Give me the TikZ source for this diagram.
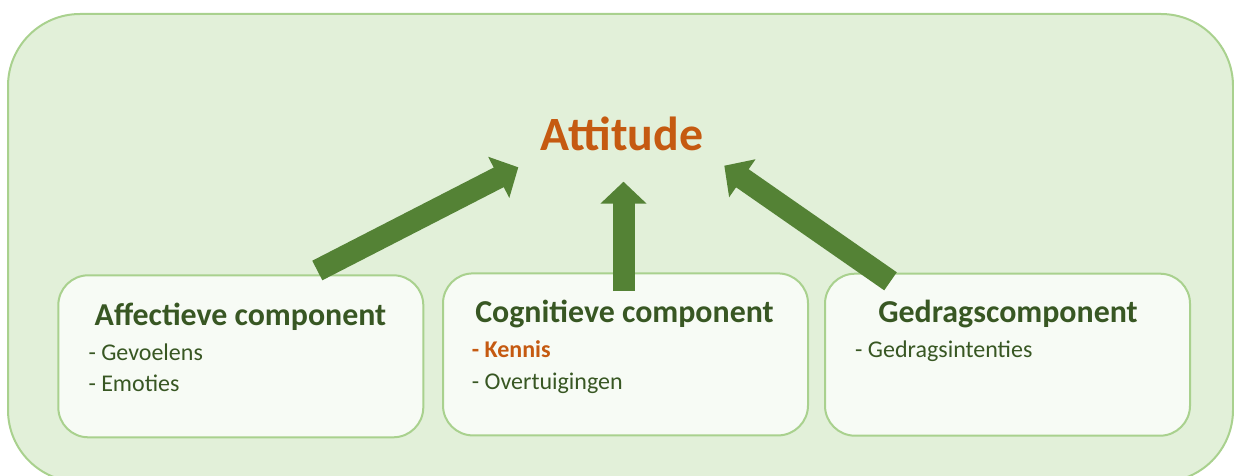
\documentclass[tikz,border=0pt]{standalone}
\usepackage{fontspec}
\setmainfont{Carlito}
\usetikzlibrary{arrows.meta}

\definecolor{panelfill}{HTML}{E2F0D9}
\definecolor{panelline}{HTML}{A9D18E}
\definecolor{boxfill}{HTML}{F7FBF5}
\definecolor{darkgreen}{HTML}{385723}
\definecolor{arrowgreen}{HTML}{548235}
\definecolor{accentorange}{HTML}{C55A11}

\tikzset{
  panel/.style={draw=panelline, line width=2pt, fill=panelfill, rounded corners=72pt},
  compbox/.style={draw=panelline, line width=2pt, fill=boxfill, rounded corners=30pt,
    minimum width=365pt, minimum height=162pt, inner sep=0pt},
  boxtitle/.style={anchor=base, inner sep=0pt, text=darkgreen,
    font=\fontsize{31.9}{38}\selectfont\bfseries},
  item/.style={anchor=base west, inner sep=0pt, text=darkgreen,
    font=\fontsize{24}{29}\selectfont},
  keyitem/.style={item, text=accentorange, font=\fontsize{24}{29}\selectfont\bfseries},
  bigarrow/.style={draw=arrowgreen, line width=22pt,
    -{Triangle[width=45pt, length=22pt]}},
}

\begin{document}
\begin{tikzpicture}[x=1pt, y=-1pt]
  \useasboundingbox (0,0) rectangle (1234,476);

  % background panel
  \draw[panel] (8,14) rectangle (1233,482);

  % central concept
  \node[anchor=base, inner sep=0pt, text=accentorange,
        font=\fontsize{47.8}{57}\selectfont\bfseries] (att) at (622,150.7) {Attitude};

  % the three components
  \node[compbox] (aff) at (240.8,356.3) {};
  \node[compbox] (cog) at (625.5,354.4) {};
  \node[compbox] (ged) at (1007.5,354.7) {};

  \node[boxtitle] (affT) at (240.5,325) {Affectieve component};
  \node[item] (aff1) at (88.3,360) {- Gevoelens};
  \node[item] (aff2) at (88.3,391.7) {- Emoties};

  \node[boxtitle] (cogT) at (624.5,322.7) {Cognitieve component};
  \node[keyitem] (cog1) at (471.7,357.3) {- Kennis};
  \node[item] (cog2) at (471.7,389.3) {- Overtuigingen};

  \node[boxtitle] (gedT) at (1008,322.3) {Gedragscomponent};
  \node[item] (ged1) at (855,357.3) {- Gedragsintenties};

  % arrow end points
  \coordinate (affTail) at (317.3,270.5);
  \coordinate (affTip)  at (518.3,167.3);
  \coordinate (cogTail) at (623.5,291);
  \coordinate (cogTip)  at (623.5,181.7);
  \coordinate (gedTail) at (890.5,281.3);
  \coordinate (gedTip)  at (724.3,165.7);

  \draw[bigarrow] (affTail) -- (affTip);
  \draw[bigarrow] (cogTail) -- (cogTip);
  \draw[bigarrow] (gedTail) -- (gedTip);
\end{tikzpicture}
\end{document}
